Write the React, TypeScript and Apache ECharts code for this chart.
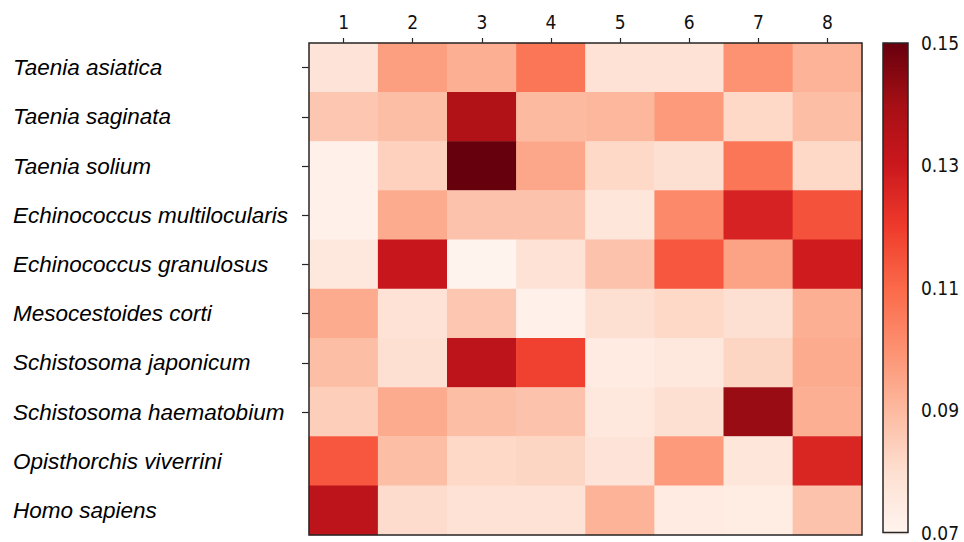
import React, { useEffect, useRef } from "react";
import * as echarts from "echarts";

const rowNames = [
  "Taenia asiatica",
  "Taenia saginata",
  "Taenia solium",
  "Echinococcus multilocularis",
  "Echinococcus granulosus",
  "Mesocestoides corti",
  "Schistosoma japonicum",
  "Schistosoma haematobium",
  "Opisthorchis viverrini",
  "Homo sapiens",
];

const colNames = ["1", "2", "3", "4", "5", "6", "7", "8"];

const rowTaeniaAsiatica = [0.078, 0.097, 0.093, 0.107, 0.079, 0.079, 0.1, 0.092];
const rowTaeniaSaginata = [0.087, 0.089, 0.137, 0.09, 0.091, 0.098, 0.082, 0.089];
const rowTaeniaSolium = [0.072, 0.084, 0.15, 0.095, 0.082, 0.08, 0.107, 0.082];
const rowEchMulti = [0.072, 0.094, 0.088, 0.088, 0.077, 0.102, 0.127, 0.115];
const rowEchGran = [0.076, 0.131, 0.071, 0.079, 0.088, 0.114, 0.096, 0.129];
const rowMesocestoides = [0.094, 0.079, 0.087, 0.072, 0.08, 0.082, 0.08, 0.093];
const rowSchJaponicum = [0.089, 0.08, 0.134, 0.119, 0.075, 0.076, 0.083, 0.094];
const rowSchHaematobium = [0.085, 0.094, 0.089, 0.088, 0.076, 0.08, 0.142, 0.093];
const rowOpisthorchis = [0.114, 0.089, 0.082, 0.083, 0.078, 0.098, 0.077, 0.126];
const rowHomoSapiens = [0.134, 0.081, 0.079, 0.079, 0.092, 0.075, 0.074, 0.088];

const matrix = [
  rowTaeniaAsiatica,
  rowTaeniaSaginata,
  rowTaeniaSolium,
  rowEchMulti,
  rowEchGran,
  rowMesocestoides,
  rowSchJaponicum,
  rowSchHaematobium,
  rowOpisthorchis,
  rowHomoSapiens,
];

const colorbarMin = 0.07;
const colorbarMax = 0.15;
const colorbarStep = 0.02;

const redsColormap = [
  "#fff5f0",
  "#fee0d2",
  "#fcbba1",
  "#fc9272",
  "#fb6a4a",
  "#ef3b2c",
  "#cb181d",
  "#a50f15",
  "#67000d",
];

export default function App() {
  const ref = useRef<HTMLDivElement>(null);

  useEffect(() => {
    if (!ref.current) return;
    const chart = echarts.init(ref.current, null, { renderer: "svg" });

    const data: [number, number, number][] = [];
    matrix.forEach((row, r) => {
      row.forEach((v, c) => data.push([c, r, v]));
    });

    const tickFont = { fontFamily: "DejaVu Sans Condensed", fontSize: 19, color: "#111" };
    const frame = "#262626";

    const plot = { left: 309, top: 43, width: 553, height: 492 };
    const bar = { left: 883, top: 43, width: 25, height: 492 };

    const gradStops = redsColormap
      .map((c, i) => ({ offset: 1 - i / (redsColormap.length - 1), color: c }))
      .reverse();

    chart.setOption({
      animation: false,
      backgroundColor: "#ffffff",
      grid: [
        {
          left: plot.left,
          top: plot.top,
          width: plot.width,
          height: plot.height,
          show: true,
          borderColor: frame,
          borderWidth: 1.5,
          backgroundColor: "transparent",
          z: 10,
        },
        {
          left: bar.left,
          top: bar.top,
          width: bar.width,
          height: bar.height,
          show: true,
          borderColor: frame,
          borderWidth: 1.5,
          backgroundColor: "transparent",
          z: 10,
        },
      ],
      xAxis: [
        {
          type: "category",
          data: colNames,
          position: "top",
          gridIndex: 0,
          axisLine: { show: false },
          axisTick: {
            show: true,
            alignWithLabel: true,
            length: 5,
            lineStyle: { color: frame, width: 1.2 },
          },
          axisLabel: { ...tickFont, margin: 12 },
          splitLine: { show: false },
        },
        {
          type: "value",
          gridIndex: 1,
          show: false,
          min: 0,
          max: 1,
        },
      ],
      yAxis: [
        {
          type: "category",
          data: rowNames,
          inverse: true,
          gridIndex: 0,
          axisLine: { show: false },
          axisTick: {
            show: true,
            alignWithLabel: true,
            length: 7,
            interval: (index: number) => index < 8,
            lineStyle: { color: frame, width: 1.2 },
          },
          axisLabel: {
            fontFamily: "Liberation Sans",
            fontStyle: "italic",
            fontSize: 22.5,
            color: "#000",
            align: "left",
            margin: 296,
          },
          splitLine: { show: false },
        },
        {
          type: "value",
          gridIndex: 1,
          position: "right",
          min: colorbarMin,
          max: colorbarMax,
          interval: colorbarStep,
          axisLine: { show: false },
          axisTick: { show: true, length: 5, lineStyle: { color: frame, width: 1.2 } },
          axisLabel: {
            ...tickFont,
            margin: 13,
            formatter: (v: number) => v.toFixed(2),
          },
          splitLine: { show: false },
        },
      ],
      visualMap: {
        show: false,
        type: "continuous",
        min: colorbarMin,
        max: colorbarMax,
        seriesIndex: 0,
        inRange: { color: redsColormap },
      },
      graphic: [
        {
          type: "rect",
          z: 1,
          shape: { x: bar.left, y: bar.top, width: bar.width, height: bar.height },
          style: {
            fill: new echarts.graphic.LinearGradient(0, 0, 0, 1, gradStops),
          },
        },
      ],
      series: [
        {
          type: "heatmap",
          xAxisIndex: 0,
          yAxisIndex: 0,
          data,
          itemStyle: { borderWidth: 0 },
          emphasis: { disabled: true },
        },
      ],
    });

    return () => chart.dispose();
  }, []);

  return (
    <div
      ref={ref}
      style={{ position: "fixed", left: 0, top: 0, width: 964, height: 542 }}
    />
  );
}
